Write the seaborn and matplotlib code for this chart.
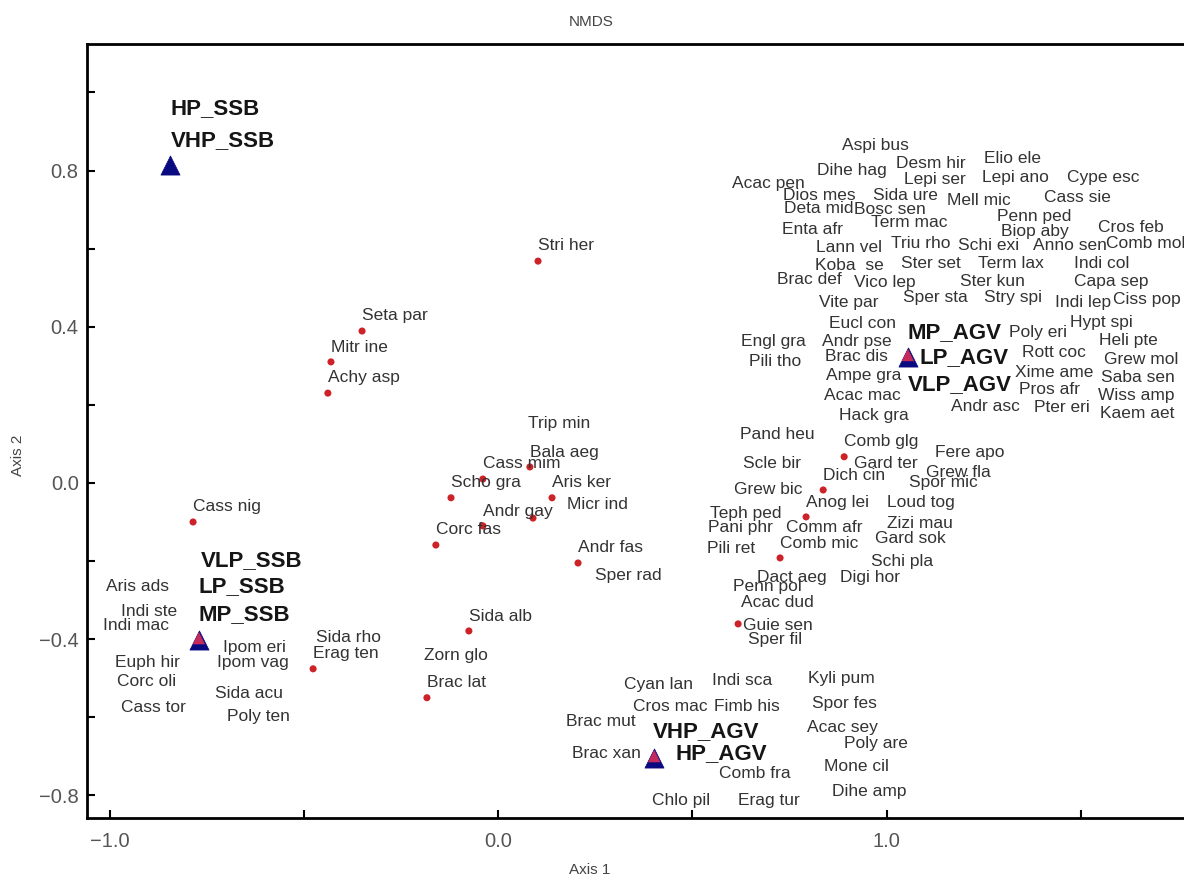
import matplotlib
matplotlib.use("Agg")
import matplotlib.pyplot as plt
import matplotlib.transforms as mtransforms
import seaborn as sns
import pandas as pd

# ---- species label positions (Axis 1, Axis 2) ----
species = [
    "Aspi bus", "Dihe hag", "Desm hir", "Elio ele", "Acac pen", "Lepi ser", "Lepi ano", "Cype esc",
    "Dios mes", "Sida ure", "Mell mic", "Cass sie", "Deta mid", "Bosc sen", "Term mac", "Penn ped",
    "Enta afr", "Biop aby", "Cros feb", "Lann vel", "Triu rho", "Schi exi", "Anno sen", "Comb mol",
    "Koba  se", "Ster set", "Term lax", "Indi col", "Brac def", "Vico lep", "Ster kun", "Capa sep",
    "Vite par", "Sper sta", "Stry spi", "Indi lep", "Ciss pop", "Eucl con", "Hypt spi", "Poly eri",
    "Engl gra", "Andr pse", "Heli pte", "Pili tho", "Brac dis", "Rott coc", "Grew mol", "Ampe gra",
    "Xime ame", "Saba sen", "Acac mac", "Pros afr", "Wiss amp", "Andr asc", "Pter eri", "Kaem aet",
    "Hack gra", "Fere apo", "Grew fla", "Pand heu", "Comb glg", "Scle bir", "Gard ter", "Dich cin",
    "Spor mic", "Grew bic", "Anog lei", "Loud tog", "Teph ped", "Pani phr", "Comm afr", "Zizi mau",
    "Comb mic", "Gard sok", "Pili ret", "Schi pla", "Dact aeg", "Digi hor", "Penn pol", "Acac dud",
    "Guie sen", "Sper fil", "Cyan lan", "Indi sca", "Kyli pum", "Cros mac", "Fimb his", "Spor fes",
    "Brac mut", "Acac sey", "Poly are", "Brac xan", "Comb fra", "Mone cil", "Dihe amp", "Chlo pil",
    "Erag tur", "Cass nig", "Aris ads", "Indi ste", "Indi mac", "Ipom eri", "Euph hir", "Ipom vag",
    "Corc oli", "Sida acu", "Cass tor", "Poly ten", "Seta par", "Mitr ine", "Achy asp", "Trip min",
    "Bala aeg", "Cass mim", "Scho gra", "Aris ker", "Micr ind", "Andr gay", "Corc fas", "Andr fas",
    "Sper rad", "Sida alb", "Sida rho", "Erag ten", "Zorn glo", "Brac lat", "Stri her",
]
label_x = [
    0.885, 0.821, 1.024, 1.251, 0.602, 1.045, 1.246, 1.465,
    0.734, 0.965, 1.156, 1.405, 0.736, 0.916, 0.960, 1.284,
    0.731, 1.295, 1.544, 0.819, 1.012, 1.184, 1.377, 1.565,
    0.816, 1.037, 1.236, 1.483, 0.718, 0.916, 1.189, 1.483,
    0.826, 1.042, 1.251, 1.434, 1.583, 0.852, 1.472, 1.315,
    0.625, 0.834, 1.547, 0.646, 0.842, 1.349, 1.560, 0.844,
    1.331, 1.552, 0.839, 1.341, 1.544, 1.166, 1.380, 1.550,
    0.878, 1.125, 1.102, 0.623, 0.891, 0.631, 0.916, 0.837,
    1.058, 0.607, 0.793, 1.001, 0.546, 0.541, 0.741, 1.001,
    0.726, 0.970, 0.538, 0.960, 0.667, 0.880, 0.605, 0.625,
    0.631, 0.644, 0.324, 0.551, 0.798, 0.347, 0.556, 0.808,
    0.175, 0.795, 0.891, 0.190, 0.569, 0.839, 0.860, 0.396,
    0.618, -0.785, -1.009, -0.970, -1.017, -0.708, -0.986, -0.723,
    -0.981, -0.728, -0.970, -0.698, -0.350, -0.430, -0.438, 0.077,
    0.082, -0.039, -0.121, 0.139, 0.178, -0.039, -0.160, 0.206,
    0.250, -0.075, -0.468, -0.476, -0.190, -0.183, 0.103,
]
label_y = [
    0.865, 0.799, 0.819, 0.832, 0.768, 0.776, 0.781, 0.781,
    0.735, 0.735, 0.722, 0.730, 0.704, 0.701, 0.668, 0.681,
    0.650, 0.643, 0.655, 0.602, 0.612, 0.609, 0.607, 0.614,
    0.556, 0.563, 0.563, 0.563, 0.522, 0.512, 0.517, 0.517,
    0.463, 0.474, 0.476, 0.463, 0.471, 0.407, 0.412, 0.384,
    0.361, 0.361, 0.364, 0.310, 0.323, 0.333, 0.317, 0.276,
    0.284, 0.269, 0.225, 0.238, 0.225, 0.195, 0.192, 0.179,
    0.172, 0.077, 0.028, 0.123, 0.105, 0.051, 0.051, 0.020,
    0.000, -0.018, -0.049, -0.051, -0.077, -0.115, -0.115, -0.105,
    -0.154, -0.143, -0.169, -0.202, -0.241, -0.241, -0.264, -0.305,
    -0.364, -0.402, -0.515, -0.507, -0.502, -0.573, -0.573, -0.566,
    -0.612, -0.625, -0.668, -0.694, -0.745, -0.727, -0.791, -0.814,
    -0.812, -0.061, -0.266, -0.328, -0.366, -0.422, -0.461, -0.461,
    -0.509, -0.538, -0.576, -0.599, 0.428, 0.348, 0.269, 0.151,
    0.079, 0.049, 0.000, 0.000, -0.054, -0.072, -0.118, -0.166,
    -0.236, -0.341, -0.397, -0.438, -0.443, -0.512, 0.607,
]

# ---- species scores drawn as points ----
point_x = [0.103, -0.350, -0.430, -0.438, 0.082, -0.039, -0.121, 0.139, 0.090, -0.039, -0.160,
           0.206, -0.785, -0.075, -0.476, -0.183, 0.891, 0.837, 0.793, 0.726, 0.618]
point_y = [0.568, 0.389, 0.310, 0.230, 0.041, 0.010, -0.038, -0.038, -0.090, -0.110, -0.159,
           -0.205, -0.100, -0.379, -0.476, -0.550, 0.067, -0.018, -0.087, -0.192, -0.361]

# ---- site groups (triangles) ----
group_x = [-0.844, -0.770, 0.402, 1.055]
group_y = [0.814, -0.402, -0.704, 0.323]
group_mixed = [False, True, True, True]

group_names = ["HP_SSB", "VHP_SSB", "VLP_SSB", "LP_SSB", "MP_SSB",
               "MP_AGV", "LP_AGV", "VLP_AGV", "VHP_AGV", "HP_AGV"]
group_label_x = [-0.844, -0.842, -0.764, -0.770, -0.770, 1.053, 1.086, 1.055, 0.399, 0.458]
group_label_y = [0.958, 0.876, -0.200, -0.266, -0.338, 0.384, 0.320, 0.251, -0.637, -0.694]

x_ticks = [-1.0, 0.0, 1.0]
y_ticks = [-0.8, -0.4, 0.0, 0.4, 0.8]

sns.set_style("white")
plt.rcParams["font.family"] = ["Liberation Sans", "DejaVu Sans"]

W, H = 1184, 881
fig = plt.figure(figsize=(W / 100, H / 100), dpi=100)
ax = fig.add_axes([87 / W, 63 / H, (1200 - 87) / W, (818 - 44) / H])

pts = pd.DataFrame({"x": point_x, "y": point_y})
sns.scatterplot(data=pts, x="x", y="y", ax=ax, s=26, color="#cc2228",
                edgecolor="none", zorder=3, legend=False)

grp = pd.DataFrame({"x": group_x, "y": group_y, "mixed": group_mixed})
sns.scatterplot(data=grp, x="x", y="y", ax=ax, marker="^", s=190, color="#0a0a80",
                edgecolor="#0a0a80", linewidth=0.5, zorder=4, legend=False)
mixed = grp[grp["mixed"]]
shift = mtransforms.offset_copy(ax.transData, fig=fig, x=0, y=1.3, units="points")
ax.scatter(mixed["x"], mixed["y"], marker="^", s=80, color="#c42a5c",
           edgecolor="none", zorder=5, transform=shift)

for name, lx, ly in zip(species, label_x, label_y):
    ax.text(lx, ly, name, ha="left", va="center", fontsize=12.5,
            color="#333333", zorder=6)

for name, lx, ly in zip(group_names, group_label_x, group_label_y):
    ax.text(lx, ly, name, ha="left", va="center", fontsize=16,
            fontweight="bold", color="#151515", zorder=7)

ax.set_xlim(-1.058, (1200 - 498) / 388.5)
ax.set_ylim(-0.858, 1.124)

ax.set_xticks(x_ticks)
ax.set_xticklabels(["\u22121.0", "0.0", "1.0"])
ax.set_xticks([-0.5, 0.5, 1.5], minor=True)
ax.set_yticks(y_ticks)
ax.set_yticklabels(["\u22120.8", "\u22120.4", "0.0", "0.4", "0.8"])
ax.set_yticks([-0.6, -0.2, 0.2, 0.6, 1.0], minor=True)

ax.tick_params(axis="both", which="both", direction="in", length=6, width=1.5,
               color="black", labelsize=14.5, labelcolor="#555555",
               bottom=True, left=True, top=False, right=False)
ax.tick_params(axis="x", which="major", pad=10)
ax.tick_params(axis="y", which="major", pad=6)

for side in ["left", "top", "bottom", "right"]:
    ax.spines[side].set_visible(True)
    ax.spines[side].set_linewidth(2)
    ax.spines[side].set_color("black")

ax.set_xlabel("Axis 1", fontsize=11, color="#444444")
ax.set_ylabel("Axis 2", fontsize=11, color="#444444")
ax.xaxis.set_label_coords((590 - 87) / (1200 - 87), (818 - 870) / (818 - 44))
ax.yaxis.set_label_coords((18 - 87) / (1200 - 87), (818 - 455) / (818 - 44))
ax.xaxis.label.set_va("center")
ax.yaxis.label.set_va("center")

fig.text(591 / W, 1 - 22 / H, "NMDS", ha="center", va="center",
         fontsize=11, color="#444444")

fig.savefig("out.png", dpi=100)
